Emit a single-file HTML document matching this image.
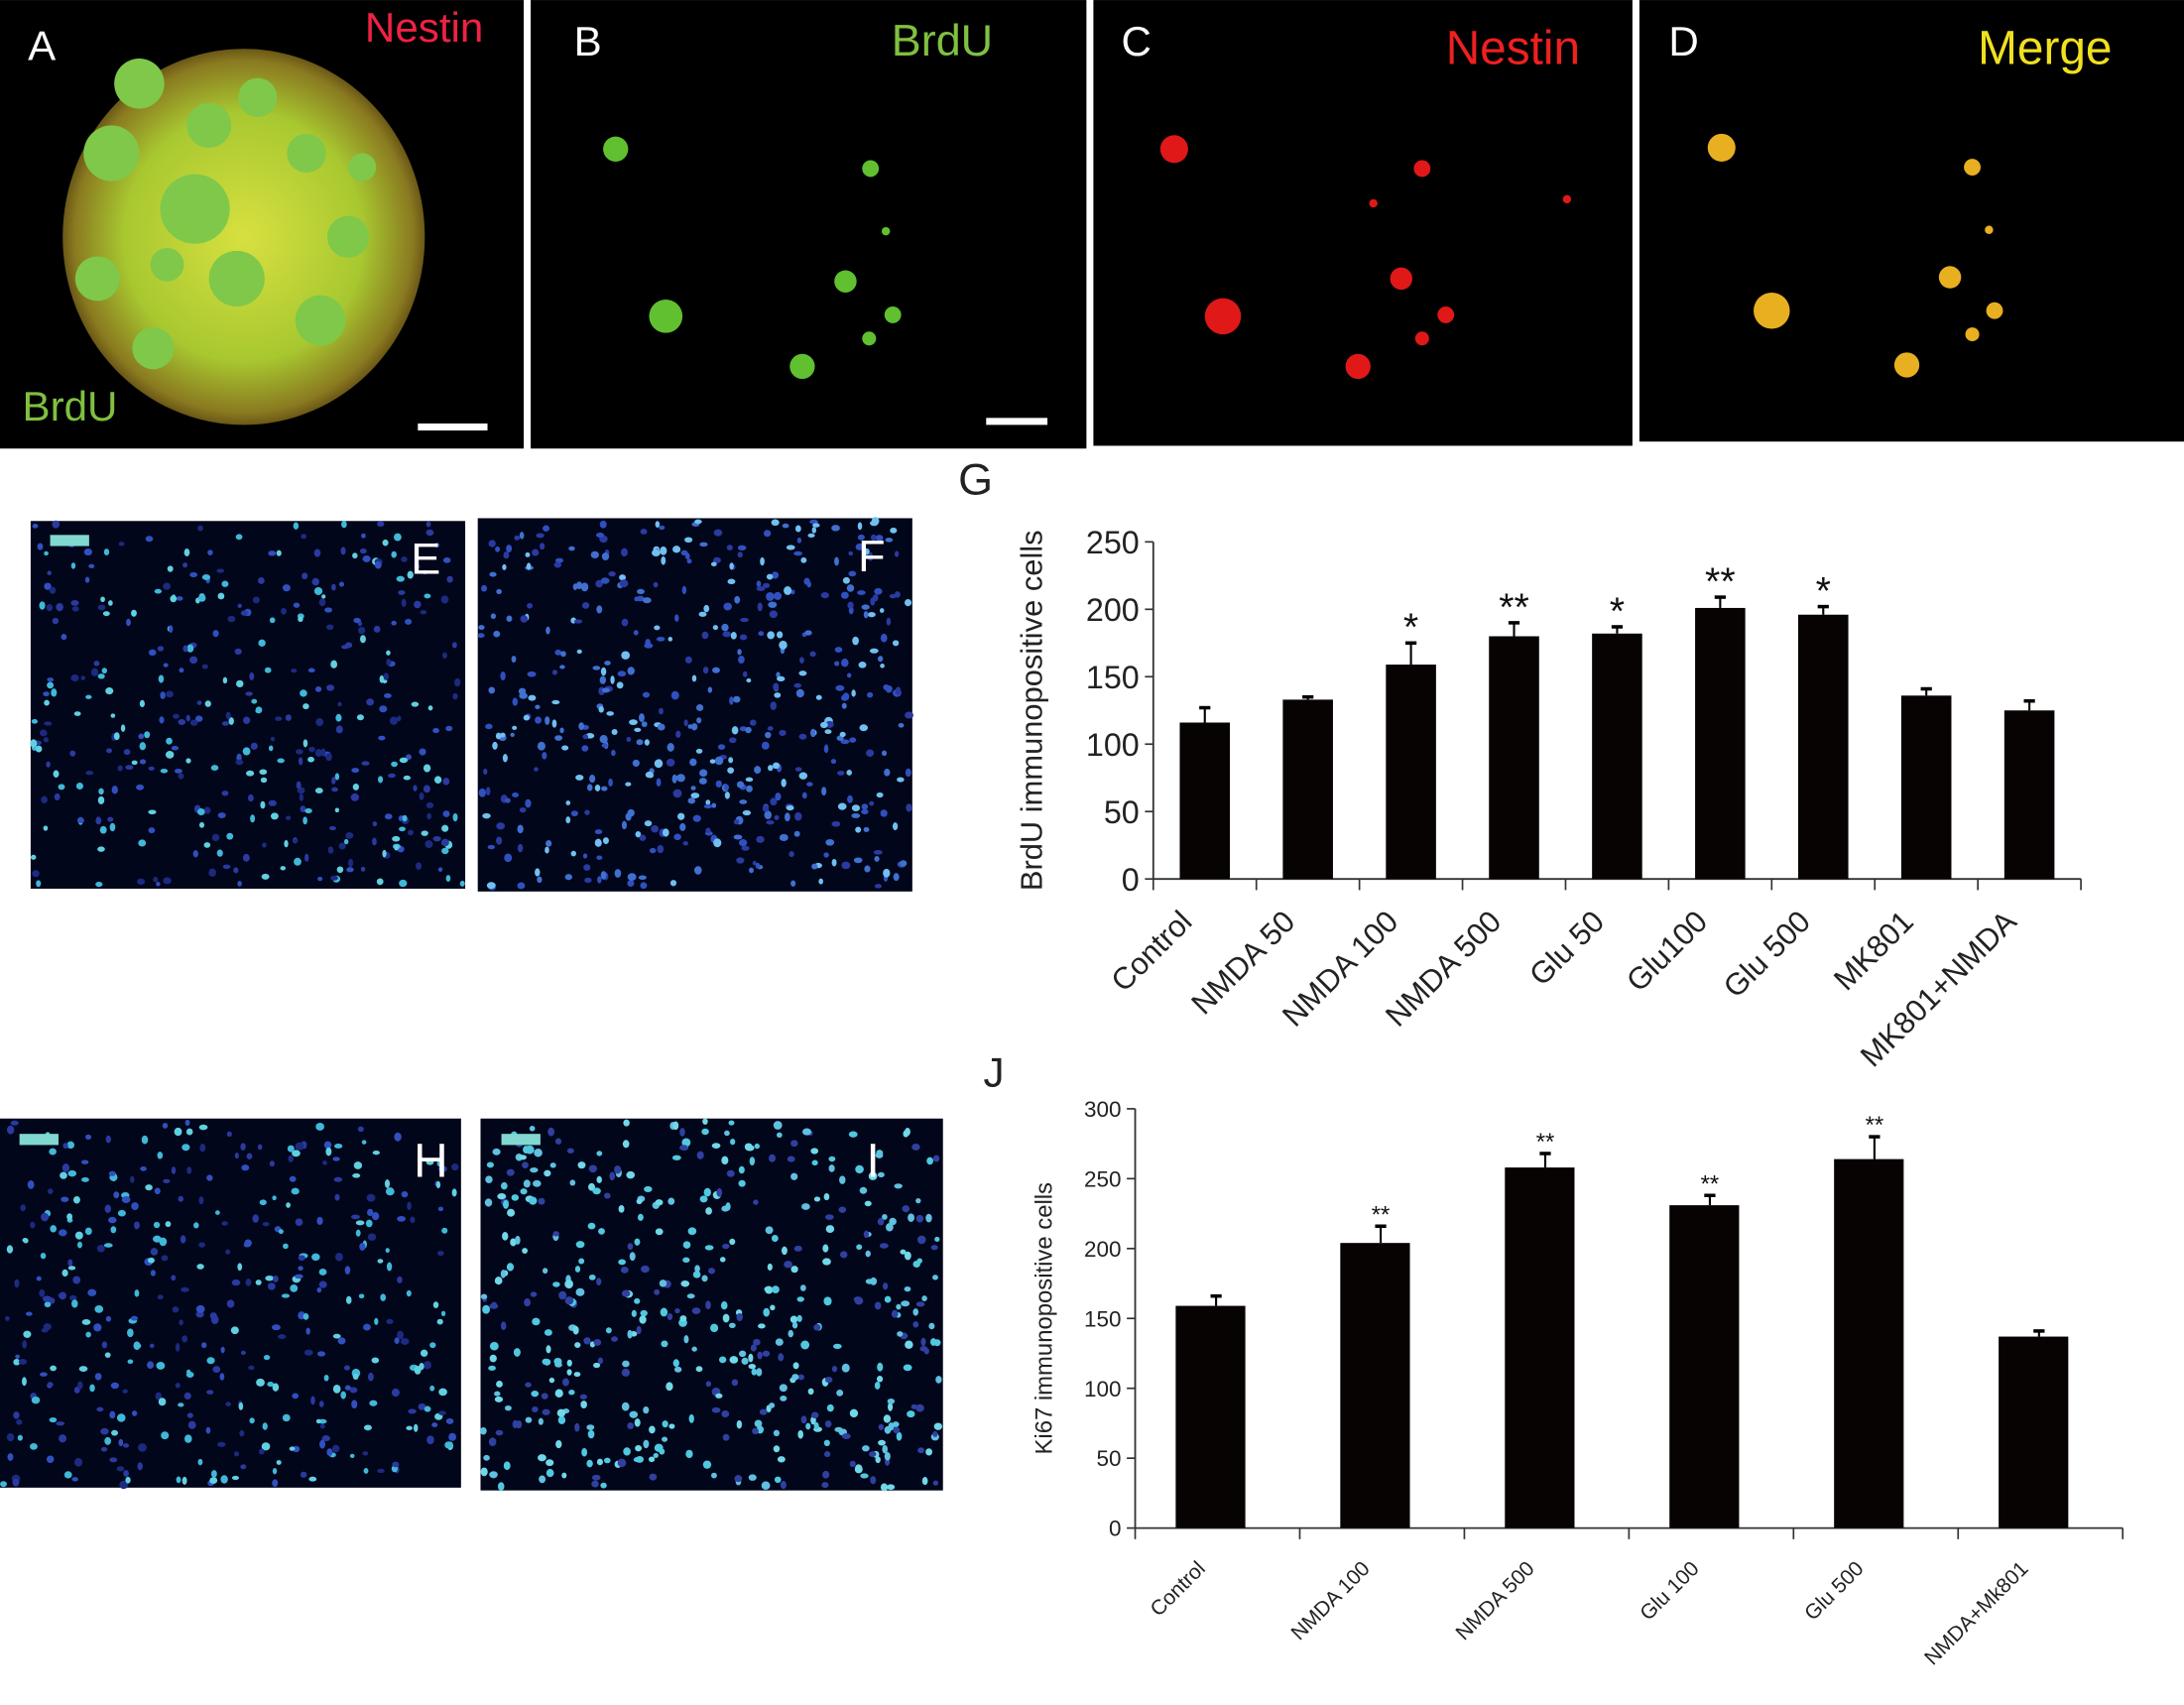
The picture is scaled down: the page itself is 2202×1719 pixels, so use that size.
<!DOCTYPE html>
<html><head><meta charset="utf-8"><style>
html,body{margin:0;padding:0;background:#fff;}
svg{display:block;font-family:"Liberation Sans",sans-serif;}
</style></head><body>
<svg id="fig" width="2202" height="1719" viewBox="0 0 1568 1224">
<rect width="1568" height="1224" fill="#fff"/>
<defs>
<radialGradient id="gA" cx="50%" cy="50%" r="55%"><stop offset="0" stop-color="#d8e040"/><stop offset="0.6" stop-color="#a8c830"/><stop offset="0.85" stop-color="#8a7a20"/><stop offset="1" stop-color="#3a2408"/></radialGradient>
</defs>
<g>
<rect x="0" y="0" width="376" height="322" fill="#000"/>
<ellipse cx="175" cy="170" rx="130" ry="135" fill="url(#gA)"/>
<g id="blobsA" fill="#7fc84a"></g>
<text x="20" y="43" font-size="30" fill="#fff">A</text>
<text x="262" y="30" font-size="30" fill="#ee2244">Nestin</text>
<text x="16" y="302" font-size="30" fill="#80c040">BrdU</text>
<rect x="300" y="304" width="50" height="5" fill="#fff"/>
</g>
<g>
<rect x="381" y="0" width="399" height="322" fill="#000"/>
<g id="cellsB" fill="#60c030"></g>
<text x="412" y="40" font-size="30" fill="#fff">B</text>
<text x="640" y="40" font-size="32" fill="#80c040">BrdU</text>
<rect x="708" y="300" width="44" height="5" fill="#fff"/>
</g>
<g>
<rect x="785" y="0" width="387" height="320" fill="#000"/>
<g id="cellsC" fill="#e01818"></g>
<text x="805" y="40" font-size="30" fill="#fff">C</text>
<text x="1038" y="46" font-size="34" fill="#ee2020">Nestin</text>
</g>
<g>
<rect x="1177" y="0" width="391" height="317" fill="#000"/>
<g id="cellsD" fill="#e8b020"></g>
<text x="1198" y="40" font-size="30" fill="#fff">D</text>
<text x="1420" y="46" font-size="34" fill="#f0e020">Merge</text>
</g>
<g>
<rect x="22" y="374" width="312" height="264" fill="#02061a"/>
<g id="cellsE"></g>
<rect x="36" y="384" width="28" height="8" fill="#80d8d0"/>
<text x="295" y="412" font-size="32" fill="#fff">E</text>
</g>
<g>
<rect x="343" y="372" width="312" height="268" fill="#02061a"/>
<g id="cellsF"></g>
<text x="616" y="410" font-size="32" fill="#fff">F</text>
</g>
<g>
<rect x="0" y="803" width="331" height="265" fill="#02061a"/>
<g id="cellsH"></g>
<rect x="14" y="814" width="28" height="8" fill="#80d8d0"/>
<text x="297" y="845" font-size="34" fill="#fff">H</text>
</g>
<g>
<rect x="345" y="803" width="332" height="267" fill="#02061a"/>
<g id="cellsI"></g>
<rect x="360" y="814" width="28" height="8" fill="#80d8d0"/>
<text x="622" y="845" font-size="34" fill="#fff">I</text>
</g>
<text x="688" y="355" font-size="32" fill="#222">G</text>
<text x="706" y="780" font-size="30" fill="#222">J</text>
<g id="chartG"></g>
<g id="chartJ"></g>
</svg>
<script>
// Chart G data
const gCategories = ["Control","NMDA 50","NMDA  100","NMDA 500","Glu 50","Glu100","Glu 500","MK801","MK801+NMDA"];
const gValues = [116,133,159,180,182,201,196,136,125];
const gErrors = [11,2,16,10,5,8,6,5,7];
const gStars = ["","","*","**","*","**","*","",""];
const gTicks = [0,50,100,150,200,250];
// Chart J data
const jCategories = ["Control","NMDA 100","NMDA 500","Glu 100","Glu 500","NMDA+Mk801"];
const jValues = [159,204,258,231,264,137];
const jErrors = [7,12,10,7,16,4];
const jStars = ["","**","**","**","**",""];
const jTicks = [0,50,100,150,200,250,300];

const NS="http://www.w3.org/2000/svg";
function mk(parent,tag,attrs,text){const e=document.createElementNS(NS,tag);for(const k in attrs)e.setAttribute(k,attrs[k]);if(text!==undefined)e.textContent=text;parent.appendChild(e);return e;}

function chart(gid,o){
  const g=document.getElementById(gid);
  const yS=v=>o.y0-(v/o.ymax)*(o.y0-o.ytop);
  const n=o.cats.length, step=(o.x1-o.x0)/n;
  const xS=i=>o.x0+step*(i+0.5);
  let e=mk(g,'line',{x1:o.x0,y1:o.ytop,x2:o.x0,y2:o.y0,stroke:'#333','stroke-width':1.3});
  
  
  e=mk(g,'line',{x1:o.x0,y1:o.y0,x2:o.x1,y2:o.y0,stroke:'#333','stroke-width':1.3});
  
  
  o.ticks.forEach(t=>{
    const y=yS(t);
    mk(g,'line',{x1:o.x0-6,y1:y,x2:o.x0,y2:y,stroke:'#333','stroke-width':1.2});
    e=mk(g,'text',{x:o.x0-10,y:y+o.tfs*0.36,'font-size':o.tfs,'text-anchor':'end',fill:'#222'},String(t));
    
    
  });
  for(let i=0;i<=n;i++){const x=o.x0+step*i;mk(g,'line',{x1:x,y1:o.y0,x2:x,y2:o.y0+8,stroke:'#333','stroke-width':1.2});}
  o.cats.forEach((c,i)=>{
    const cx=xS(i),v=o.vals[i],er=o.errs[i];
    e=mk(g,'line',{x1:cx+o.ebx,y1:yS(v),x2:cx+o.ebx,y2:yS(v+er),stroke:'#000','stroke-width':1.5});
    
    
    mk(g,'line',{x1:cx+o.ebx-4,y1:yS(v+er),x2:cx+o.ebx+4,y2:yS(v+er),stroke:'#000','stroke-width':2.5});
    e=mk(g,'rect',{x:cx-o.bw/2+o.bdx,y:yS(v),width:o.bw,height:o.y0-yS(v),fill:'#070303'});
    
    
    if(o.stars[i]){
      e=mk(g,'text',{x:cx+o.ebx,y:yS(v+er)-o.sgap+o.sfs*0.72,'font-size':o.sfs,'text-anchor':'middle',fill:'#111'},o.stars[i]);
      
      
    }
    const lx=cx+o.ldx, ly=o.y0+o.ldy;
    e=mk(g,'text',{x:lx,y:ly,'font-size':o.lfs,'text-anchor':'end',fill:'#222',transform:`rotate(-45 ${lx} ${ly})`},c);
    
    
  });
  e=mk(g,'text',{x:o.titleX,y:(o.y0+o.ytop)/2,'font-size':o.titleFs,'text-anchor':'middle',fill:'#222',transform:`rotate(-90 ${o.titleX} ${(o.y0+o.ytop)/2})`},o.title);
  
  
}
chart('chartG',{cats:gCategories,vals:gValues,errs:gErrors,stars:gStars,ticks:gTicks,ymax:250,
  x0:828,x1:1494,y0:631,ytop:389,bw:36,bdx:0,ebx:0,tfs:23,sfs:28,sgap:22,lfs:22,ldx:-8,ldy:32,
  title:"BrdU immunopositive cells",titleX:748,titleFs:22});
chart('chartJ',{cats:jCategories,vals:jValues,errs:jErrors,stars:jStars,ticks:jTicks,ymax:300,
  x0:815,x1:1524,y0:1097,ytop:796,bw:50,bdx:-5,ebx:-1,tfs:16,sfs:17,sgap:15,lfs:15,ldx:-8,ldy:30,
  title:"Ki67 immunopositive cells",titleX:755,titleFs:17});

let seed=7;function rnd(){seed=(seed*16807)%2147483647;return seed/2147483647;}
function cells(id,x,y,w,h,n,colors,rmin,rmax){
  const g=document.getElementById(id);
  for(let i=0;i<n;i++){
    mk(g,'ellipse',{cx:x+rnd()*w,cy:y+rnd()*h,rx:rmin+rnd()*(rmax-rmin),ry:rmin+rnd()*(rmax-rmin),fill:colors[Math.floor(rnd()*colors.length)]});
  }
}
const A=document.getElementById('blobsA');
[[100,60,18],[150,90,16],[185,70,14],[80,110,20],[70,200,16],[110,250,15],[230,230,18],[250,170,15],[170,200,20],[140,150,25],[220,110,14],[260,120,10],[120,190,12]].forEach(b=>mk(A,'circle',{cx:b[0],cy:b[1],r:b[2]}));
[[442,107,9],[478,227,12],[607,202,8],[576,263,9],[625,121,6],[641,226,6],[624,243,5],[636,166,3]].forEach(b=>mk(document.getElementById('cellsB'),'circle',{cx:b[0],cy:b[1],r:b[2]}));
[[843,107,10],[878,227,13],[1006,200,8],[975,263,9],[1021,121,6],[1038,226,6],[1021,243,5],[986,146,3],[1125,143,3]].forEach(b=>mk(document.getElementById('cellsC'),'circle',{cx:b[0],cy:b[1],r:b[2]}));
[[1236,106,10],[1272,223,13],[1400,199,8],[1369,262,9],[1416,120,6],[1432,223,6],[1416,240,5],[1428,165,3]].forEach(b=>mk(document.getElementById('cellsD'),'circle',{cx:b[0],cy:b[1],r:b[2]}));
const blues=['#2a3aa0','#3050c0','#40b8d8','#60d0e0','#1c2a80'];
cells('cellsE',24,376,308,260,380,blues,1.5,3);
cells('cellsF',345,374,308,264,500,['#3050c0','#4070d0','#2a3aa0','#70c0f0'],1.5,3.2);
cells('cellsH',2,805,327,261,400,blues,1.5,3.2);
cells('cellsI',347,805,328,263,480,['#50c8e0','#70d8e8','#3040a0','#60c0e0'],1.8,3.2);
</script>
</body></html>
